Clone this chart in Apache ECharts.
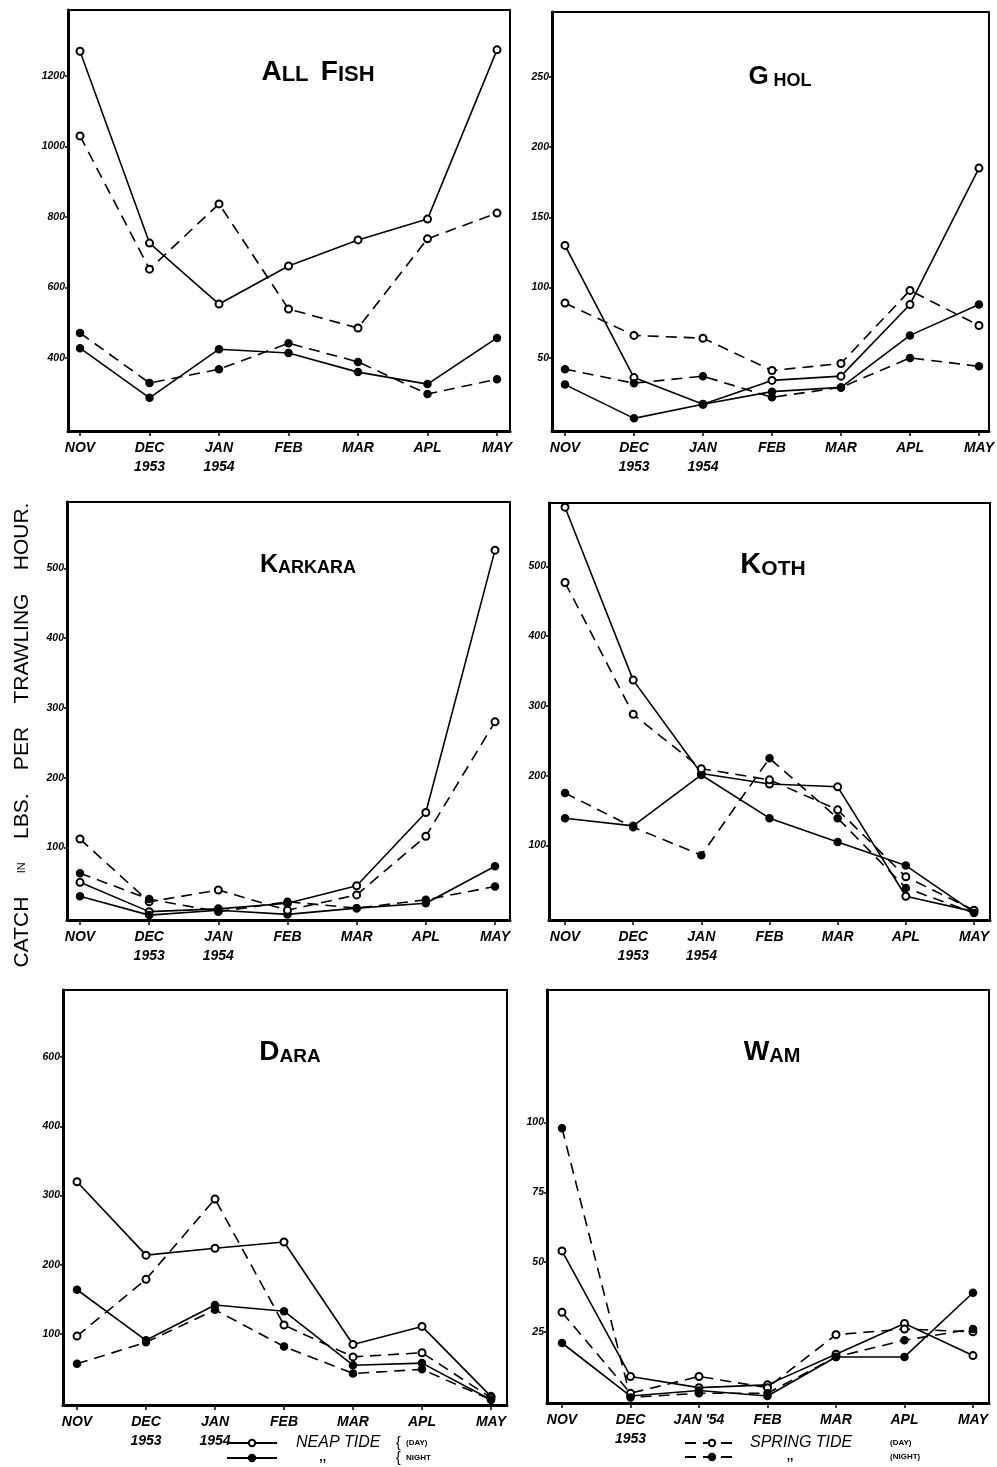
<!DOCTYPE html>
<html>
<head>
<meta charset="utf-8">
<script src="https://cdn.jsdelivr.net/npm/echarts@6/dist/echarts.min.js"></script>
<style>
  html, body { margin: 0; padding: 0; background: #fff; }
  #chart { width: 997px; height: 1467px; }
</style>
</head>
<body>
<div id="chart"></div>
<script>
// ---------------- DATA ----------------
const monthIndex = [0, 1, 2, 3, 4, 5, 6];
const monthLabels = ['NOV', 'DEC\n1953', 'JAN\n1954', 'FEB', 'MAR', 'APL', 'MAY'];
const monthLabelsWam = ['NOV', 'DEC\n1953', "JAN '54", 'FEB', 'MAR', 'APL', 'MAY'];

const seriesNames = ['Neap tide day', 'Neap tide night', 'Spring tide day', 'Spring tide night'];

// All Fish
const allFishNeapDay     = [1270, 726, 553, 661, 735, 794, 1274];
const allFishNeapNight   = [428, 287, 425, 414, 360, 326, 457];
const allFishSpringDay   = [1030, 652, 837, 539, 485, 738, 811];
const allFishSpringNight = [471, 329, 368, 442, 389, 298, 340];
const allFishTicks = [400, 600, 800, 1000, 1200];
const allFishTickLabels = ['400', '600', '800', '1000', '1200'];

// Ghol
const gholNeapDay     = [130, 36, 17, 34, 37, 88, 185];
const gholNeapNight   = [31, 7, 17, 26, 29, 66, 88];
const gholSpringDay   = [89, 66, 64, 41, 46, 98, 73];
const gholSpringNight = [42, 32, 37, 22, 29, 50, 44];
const gholTicks = [50, 100, 150, 200, 250];
const gholTickLabels = ['50', '100', '150', '200', '250'];

// Karkara
const karkaraNeapDay     = [50, 8, 12, 20, 45, 150, 526];
const karkaraNeapNight   = [30, 3, 10, 4, 13, 20, 73];
const karkaraSpringDay   = [112, 22, 39, 10, 32, 116, 280];
const karkaraSpringNight = [63, 26, 8, 22, 13, 25, 44];
const karkaraTicks = [100, 200, 300, 400, 500];
const karkaraTickLabels = ['100', '200', '300', '400', '500'];

// Koth
const kothNeapDay     = [585, 337, 203, 188, 184, 27, 5];
const kothNeapNight   = [139, 128, 201, 139, 105, 71, 4];
const kothSpringDay   = [477, 288, 210, 194, 151, 55, 7];
const kothSpringNight = [175, 126, 86, 225, 139, 39, 3];
const kothTicks = [100, 200, 300, 400, 500];
const kothTickLabels = ['100', '200', '300', '400', '500'];

// Dara
const daraNeapDay     = [320, 214, 224, 233, 85, 111, 10];
const daraNeapNight   = [164, 91, 142, 133, 55, 58, 5];
const daraSpringDay   = [97, 179, 295, 113, 67, 73, 8];
const daraSpringNight = [57, 88, 135, 82, 43, 49, 5];
const daraTicks = [100, 200, 300, 400, 500];
const daraTickLabels = ['100', '200', '300', '400', '600'];

// Wam
const wamNeapDay     = [54, 9, 5, 6, 17, 28, 16.5];
const wamNeapNight   = [21, 2, 4, 2, 16, 16, 39];
const wamSpringDay   = [32, 3, 9, 5, 24, 26, 25];
const wamSpringNight = [98, 1.5, 3, 3, 16, 22, 26];
const wamTicks = [25, 50, 75, 100];
const wamTickLabels = ['25', '50', '75', '100'];

// ---------------- LAYOUT ----------------
const FONT = '"Liberation Sans", Arial, sans-serif';

const panels = [
  { title: [['A', 'LL  '], ['F', 'ISH']], tx: 318, ty: 72, big: 28, small: 22,
    data: [allFishNeapDay, allFishNeapNight, allFishSpringDay, allFishSpringNight],
    ticks: allFishTicks, tickLabels: allFishTickLabels, months: monthLabels,
    grid: { left: 68, top: 10, width: 442, height: 421 }, x: [-0.173, 6.187], y: [193, 1387] },
  { title: [['G', ' HOL']], tx: 780, ty: 77, big: 26, small: 18,
    data: [gholNeapDay, gholNeapNight, gholSpringDay, gholSpringNight],
    ticks: gholTicks, tickLabels: gholTickLabels, months: monthLabels,
    grid: { left: 552, top: 12, width: 438, height: 419 }, x: [-0.188, 6.145], y: [-2, 296] },
  { title: [['K', 'ARKARA']], tx: 308, ty: 565, big: 25, small: 18,
    data: [karkaraNeapDay, karkaraNeapNight, karkaraSpringDay, karkaraSpringNight],
    ticks: karkaraTicks, tickLabels: karkaraTickLabels, months: monthLabels,
    grid: { left: 67, top: 502, width: 443, height: 418 }, x: [-0.188, 6.217], y: [-4, 595] },
  { title: [['K', 'OTH']], tx: 773, ty: 565, big: 29, small: 21,
    data: [kothNeapDay, kothNeapNight, kothSpringDay, kothSpringNight],
    ticks: kothTicks, tickLabels: kothTickLabels, months: monthLabels,
    grid: { left: 549, top: 503, width: 441, height: 417 }, x: [-0.235, 6.235], y: [-7, 591] },
  { title: [['D', 'ARA']], tx: 290, ty: 1052, big: 28, small: 19,
    data: [daraNeapDay, daraNeapNight, daraSpringDay, daraSpringNight],
    ticks: daraTicks, tickLabels: daraTickLabels, months: monthLabels,
    grid: { left: 63, top: 990, width: 444, height: 415 }, x: [-0.203, 6.232], y: [-2.5, 597] },
  { title: [['W', 'AM']], tx: 772, ty: 1053, big: 27, small: 20,
    data: [wamNeapDay, wamNeapNight, wamSpringDay, wamSpringNight],
    ticks: wamTicks, tickLabels: wamTickLabels, months: monthLabelsWam,
    grid: { left: 547, top: 990, width: 442, height: 413 }, x: [-0.219, 6.234], y: [-0.5, 147.5] }
];

const seriesStyles = [
  { symbol: 'emptyCircle', dash: 'solid' },
  { symbol: 'circle', dash: 'solid' },
  { symbol: 'emptyCircle', dash: [11, 7] },
  { symbol: 'circle', dash: [11, 7] }
];

const grids = [], xAxes = [], yAxes = [], series = [], titles = [];

panels.forEach((p, i) => {
  grids.push(Object.assign({ show: true, borderColor: '#000', borderWidth: 2, backgroundColor: 'transparent' }, p.grid));
  xAxes.push({
    gridIndex: i, type: 'value', min: p.x[0], max: p.x[1],
    axisLine: { onZero: false, lineStyle: { color: '#000', width: 3 } },
    splitLine: { show: false },
    axisTick: { customValues: monthIndex, length: 5, lineStyle: { color: '#000', width: 1.5 } },
    axisLabel: {
      customValues: monthIndex, margin: 8, color: '#000',
      fontFamily: FONT, fontSize: 14, fontWeight: 'bold', fontStyle: 'italic', lineHeight: 19,
      formatter: (v) => p.months[Math.round(v)]
    }
  });
  yAxes.push({
    gridIndex: i, type: 'value', min: p.y[0], max: p.y[1],
    axisLine: { onZero: false, lineStyle: { color: '#000', width: 3 } },
    splitLine: { show: false },
    axisTick: { customValues: p.ticks, length: 3, lineStyle: { color: '#000', width: 1.5 } },
    axisLabel: {
      customValues: p.ticks, margin: 3, color: '#000',
      fontFamily: FONT, fontSize: 10.5, fontWeight: 'bold', fontStyle: 'italic',
      formatter: (v) => p.tickLabels[p.ticks.indexOf(v)]
    }
  });
  p.data.forEach((arr, k) => {
    series.push({
      type: 'line', name: seriesNames[k], xAxisIndex: i, yAxisIndex: i,
      data: arr.map((v, j) => [monthIndex[j], v]),
      symbol: seriesStyles[k].symbol, symbolSize: 7,
      lineStyle: { color: '#000', width: 1.6, type: seriesStyles[k].dash },
      itemStyle: { color: '#000', borderColor: '#000', borderWidth: 1.5 },
      emphasis: { disabled: true },
      animation: false, z: 3
    });
  });
  let text = p.title.map(([b, s]) => '{b|' + b + '}{s|' + s + '}').join('');
  titles.push({
    text: text, left: p.tx, top: p.ty, textAlign: 'center', textVerticalAlign: 'middle', padding: 0,
    textStyle: {
      rich: {
        b: { fontFamily: FONT, fontSize: p.big, color: '#000', verticalAlign: 'bottom' },
        s: { fontFamily: FONT, fontSize: p.small, color: '#000', verticalAlign: 'bottom' }
      }
    }
  });
});

const legendRich = (gW, tW) => ({
  g: { width: gW, lineHeight: 13 },
  t: { width: tW, fontFamily: FONT, fontSize: 16, fontStyle: 'italic', color: '#000', lineHeight: 13 },
  c: { width: tW, fontFamily: FONT, fontSize: 12, fontWeight: 'bold', color: '#000', lineHeight: 13 },
  br: { width: 10, fontFamily: FONT, fontSize: 14, color: '#000', lineHeight: 13 },
  s: { fontFamily: FONT, fontSize: 8, fontWeight: 'bold', color: '#000', lineHeight: 13 }
});

const option = {
  backgroundColor: '#fff',
  animation: false,
  title: titles,
  grid: grids,
  xAxis: xAxes,
  yAxis: yAxes,
  series: series,
  legend: [
    {
      left: 226, top: 1435, orient: 'vertical', itemWidth: 50, itemHeight: 8, itemGap: 0,
      selectedMode: false, padding: 0,
      data: ['Neap tide day', 'Neap tide night'],
      formatter: (n) => n === 'Neap tide day'
        ? '{g|\u00a0}{t|NEAP TIDE}{br|{}{s|(DAY)}'
        : '{g|\u00a0}{c|\u00a0\u00a0\u00a0\u00a0\u00a0\u00a0\u00a0,,}{br|{}{s|NIGHT}',
      textStyle: { rich: legendRich(14, 100) }
    },
    {
      left: 684, top: 1435, orient: 'vertical', itemWidth: 54, itemHeight: 8, itemGap: 0,
      selectedMode: false, padding: 0,
      data: ['Spring tide day', 'Spring tide night'],
      formatter: (n) => n === 'Spring tide day'
        ? '{g|\u00a0}{t|SPRING TIDE}{s|(DAY)}'
        : '{g|\u00a0}{c|\u00a0\u00a0\u00a0\u00a0\u00a0\u00a0\u00a0\u00a0\u00a0\u00a0\u00a0,,}{s|(NIGHT)}',
      textStyle: { rich: legendRich(6, 140) }
    }
  ],
  graphic: [
    {
      type: 'text', x: 22, y: 735, rotation: Math.PI / 2,
      style: {
        text: 'CATCH    {s|IN}    LBS.    PER    TRAWLING    HOUR.',
        fontFamily: FONT, fontSize: 21, fill: '#000',
        align: 'center', verticalAlign: 'middle',
        rich: { s: { fontFamily: FONT, fontSize: 11, fill: '#000' } }
      }
    }
  ]
};

const chart = echarts.init(document.getElementById('chart'), null, { renderer: 'canvas' });
chart.setOption(option);
</script>
</body>
</html>
